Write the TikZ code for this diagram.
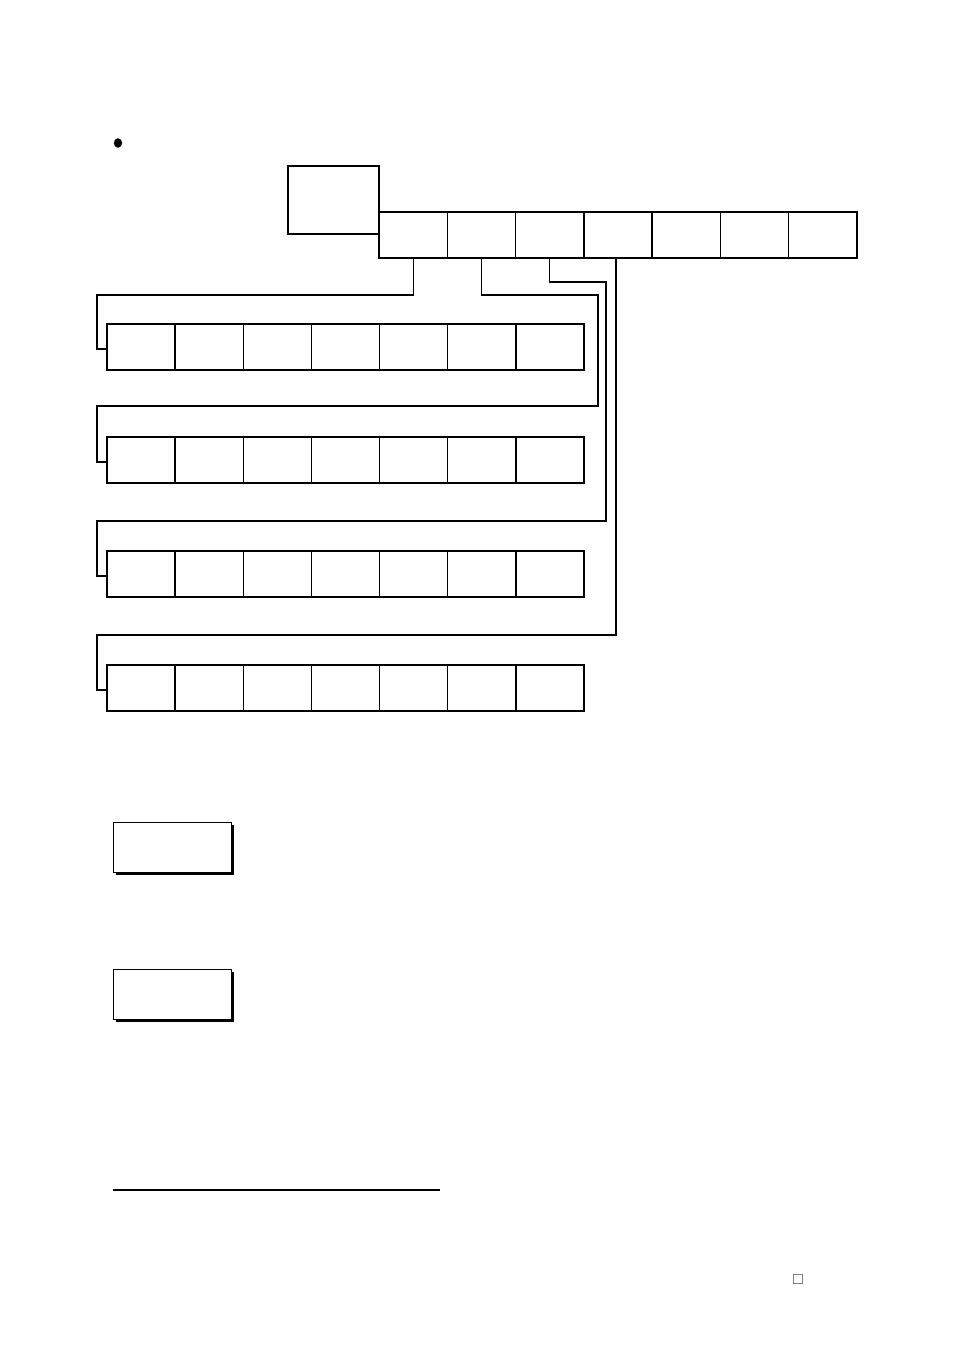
\documentclass[tikz,border=0pt]{standalone}
\usepackage{tikz}
\usetikzlibrary{positioning,shadows}
\tikzset{
  cell/.style={rectangle, draw, line width=1.3pt, minimum width=68.2pt, minimum height=46pt, inner sep=0pt, outer sep=0pt, anchor=north west},
  headbox/.style={rectangle, draw, line width=1.4pt, minimum width=91pt, minimum height=68pt, inner sep=0pt, outer sep=0pt, anchor=north west},
  shadowbox/.style={rectangle, draw, fill=white, line width=1.1pt, minimum width=118pt, minimum height=50pt, inner sep=0pt, anchor=north west,
                    drop shadow={shadow xshift=2.4pt, shadow yshift=-2.4pt, fill=black, opacity=1}},
  wire/.style={line width=1.2pt},
  glyphbox/.style={rectangle, draw=gray, line width=1pt, minimum size=9pt, inner sep=0pt},
}
\begin{document}
\begin{tikzpicture}[x=1pt,y=-1pt]
\useasboundingbox (0,0) rectangle (954,1351);
%Nodes
\fill (118,143) ellipse (4.2 and 4.8);
\node[headbox] (head) at (288,166) {};
\foreach \i in {1,...,7}{
  \node[cell] (t\i) at ({379+68.29*(\i-1)},212) {};
  \node[cell] (a\i) at ({107+68.14*(\i-1)},324) {};
  \node[cell] (b\i) at ({107+68.14*(\i-1)},437) {};
  \node[cell] (c\i) at ({107+68.14*(\i-1)},551) {};
  \node[cell] (d\i) at ({107+68.14*(\i-1)},665) {};
}
\node[shadowbox] (boxA) at (113,822) {};
\node[shadowbox] (boxB) at (113,969) {};
\node[glyphbox] (mark) at (798,1279) {};

%Lines
\draw[wire] (t1.south) |- (97,295) |- ([yshift=-2pt]a1.west);
\draw[wire] (t2.south) |- (598,295) |- (97,406) |- ([yshift=-2pt]b1.west);
\draw[wire] (t3.south) |- (606,282) |- (97,521) |- ([yshift=-2pt]c1.west);
\draw[wire] ([xshift=-2pt]t4.south) |- (97,635) |- ([yshift=-2pt]d1.west);
\draw[line width=1.8pt] (113,1190) -- (440,1190);
\end{tikzpicture}
\end{document}
